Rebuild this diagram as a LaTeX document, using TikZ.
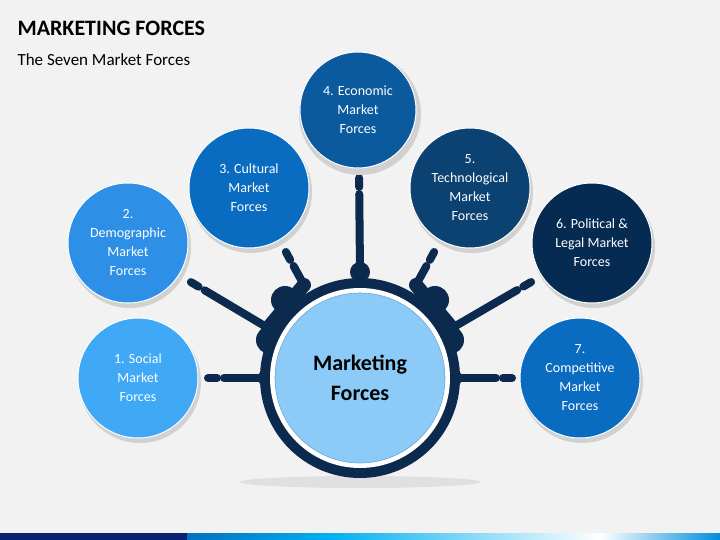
\documentclass[tikz,border=0pt]{standalone}
\usepackage{fontspec}
\setmainfont{Carlito}
\usetikzlibrary{calc}
\definecolor{bg}{HTML}{F2F2F2}
\definecolor{navy}{HTML}{0B2A4E}
\definecolor{cA}{HTML}{3FA9F5}
\definecolor{cB}{HTML}{2E8FE6}
\definecolor{cC}{HTML}{0A6CC0}
\definecolor{cD}{HTML}{0B5A9E}
\definecolor{cE}{HTML}{0B4272}
\definecolor{cF}{HTML}{062B52}
\definecolor{cG}{HTML}{0A6CC0}
\definecolor{cmid}{HTML}{8CCBF7}
\begin{document}
\begin{tikzpicture}[x=1pt,y=-1pt,
  bub/.style={circle,minimum size=120pt,inner sep=0pt,align=center,text=white,font=\fontsize{14}{19}\selectfont,
    draw=white,line width=1pt},
  conn/.style={line width=8pt,navy,line cap=round}]
\useasboundingbox (0,0) rectangle (720,540);
\fill[bg] (0,0) rectangle (720,540);
% bottom bar
\fill[navy!80!blue] (0,533) rectangle (187,540);
\shade[left color={rgb,255:red,0;green,112;blue,192},right color={rgb,255:red,0;green,176;blue,240}] (187,533) rectangle (330,540);
\shade[left color={rgb,255:red,0;green,176;blue,240},right color=white] (330,533) rectangle (600,540);
\shade[left color=white,right color={rgb,255:red,0;green,140;blue,220}] (600,533) rectangle (720,540);
% titles
\node[anchor=west,font=\bfseries\fontsize{22}{26}\selectfont] (title) at (14,28) {MARKETING FORCES};
\node[anchor=west,font=\fontsize{17}{20}\selectfont] (sub) at (14,60) {The Seven Market Forces};
% shadow
\fill[black!12] (360,482) ellipse (120pt and 6pt);
% coordinates
\coordinate (r1) at (262,378); \coordinate (e1) at (200,378);
\coordinate (r2) at (268,328); \coordinate (e2) at (184,278);
\coordinate (r3) at (304,285); \coordinate (e3) at (282,245);
\coordinate (r4) at (360,270); \coordinate (e4) at (359,170);
\coordinate (r5) at (416,285); \coordinate (e5) at (438,245);
\coordinate (r6) at (452,328); \coordinate (e6) at (538,278);
\coordinate (r7) at (458,378); \coordinate (e7) at (520,378);
\foreach \i in {1,...,7}{
  \draw[conn] (r\i) -- ($(e\i)!24pt!(r\i)$);
  \draw[conn] ($(e\i)!17pt!(r\i)$) -- ($(e\i)!8pt!(r\i)$);
}
% fillets
\foreach \a/\b in {r2/r3,r5/r6}{\draw[navy,line width=14pt,line cap=round] (\a) -- (\b);}
\fill[navy] (360,378) circle (100pt);
\fill[navy] (360,272) circle (10pt);
\fill[navy] (285,300) circle (14pt);
\fill[navy] (435,300) circle (14pt);
\fill[navy] (270,340) circle (14pt);
\fill[navy] (450,340) circle (14pt);
\fill[navy] (268,378) circle (10pt);
\fill[navy] (452,378) circle (10pt);
\fill[white] (360,378) circle (90pt);
\node[circle,fill=cmid,draw=cC!60,line width=0.6pt,minimum size=170pt,inner sep=0pt,align=center,
  font=\bfseries\fontsize{22}{30}\selectfont] (c) at (360,378) {Marketing\\Forces};
% bubbles
\foreach \p in {(138,378),(128,243),(249,188),(358,110),(470,188),(592,243),(580,378)}{\fill[black!18] \p ++(2,4) circle (61pt);}
\node[bub,fill=cA] (b1) at (138,378) {1. Social\\Market\\Forces};
\node[bub,fill=cB] (b2) at (128,243) {2.\\Demographic\\Market\\Forces};
\node[bub,fill=cC] (b3) at (249,188) {3. Cultural\\Market\\Forces};
\node[bub,fill=cD,minimum size=116pt] (b4) at (358,110) {4. Economic\\Market\\Forces};
\node[bub,fill=cE] (b5) at (470,188) {5.\\Technological\\Market\\Forces};
\node[bub,fill=cF] (b6) at (592,243) {6. Political \&\\Legal Market\\Forces};
\node[bub,fill=cG] (b7) at (580,378) {7.\\Competitive\\Market\\Forces};
\end{tikzpicture}
\end{document}
